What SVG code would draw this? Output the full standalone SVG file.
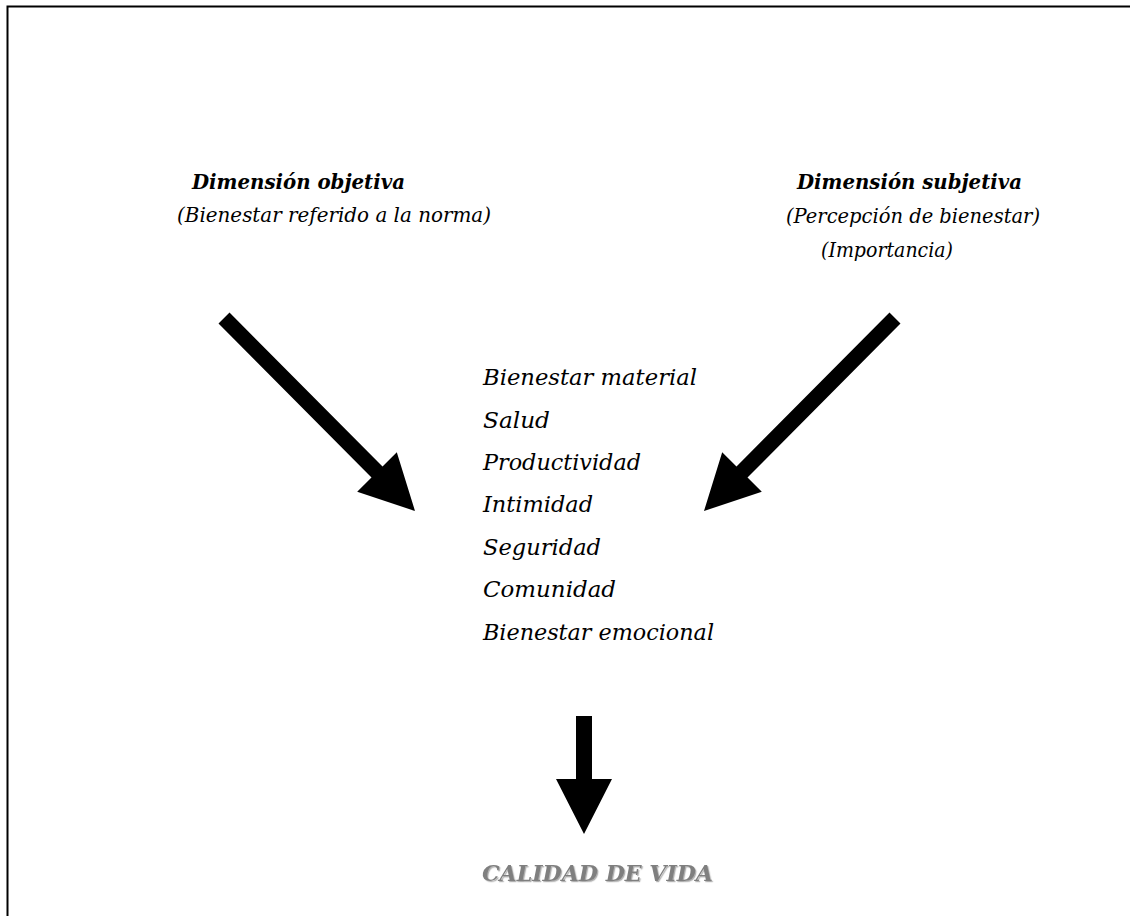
<svg xmlns="http://www.w3.org/2000/svg" width="1130" height="916" viewBox="0 0 1130 916">
  <style>
    .head { font-family: "DejaVu Serif", "Liberation Serif", serif; font-style: italic; font-weight: bold; font-size: 19.5px; fill: #000; }
    .sub { font-family: "DejaVu Serif", "Liberation Serif", serif; font-style: italic; font-size: 19.5px; fill: #000; }
    .item { font-family: "DejaVu Serif", "Liberation Serif", serif; font-style: italic; font-size: 21.5px; fill: #000; }
    .result { font-family: "DejaVu Serif", "Liberation Serif", serif; font-style: italic; font-weight: bold; font-size: 23px; fill: #7f7f7f; filter: url(#shade); }
    .arrow { fill: #000; stroke: none; }
  </style>
  <defs>
    <filter id="shade" x="-5%" y="-20%" width="110%" height="150%">
      <feDropShadow dx="1.2" dy="1.2" stdDeviation="0.4" flood-color="#b0b0b0"/>
    </filter>
  </defs>

  <rect width="1130" height="916" fill="#fff"/>
  <!-- frame: top and left edges only -->
  <path d="M7.5,916 V6.5 H1130" fill="none" stroke="#000" stroke-width="2"/>

  <g id="objetiva">
    <text class="head" x="192" y="189" textLength="213" lengthAdjust="spacingAndGlyphs">Dimensión objetiva</text>
    <text class="sub" x="177" y="222" textLength="314" lengthAdjust="spacingAndGlyphs">(Bienestar referido a la norma)</text>
  </g>

  <g id="subjetiva">
    <text class="head" x="797" y="189" textLength="225" lengthAdjust="spacingAndGlyphs">Dimensión subjetiva</text>
    <text class="sub" x="786" y="223" textLength="254" lengthAdjust="spacingAndGlyphs">(Percepción de bienestar)</text>
    <text class="sub" x="821" y="257" textLength="132" lengthAdjust="spacingAndGlyphs">(Importancia)</text>
  </g>

  <g id="dominios">
    <text class="item" x="483" y="385" textLength="214" lengthAdjust="spacingAndGlyphs">Bienestar material</text>
    <text class="item" x="483" y="428" textLength="67" lengthAdjust="spacingAndGlyphs">Salud</text>
    <text class="item" x="483" y="470" textLength="158" lengthAdjust="spacingAndGlyphs">Productividad</text>
    <text class="item" x="483" y="512" textLength="110" lengthAdjust="spacingAndGlyphs">Intimidad</text>
    <text class="item" x="483" y="555" textLength="118" lengthAdjust="spacingAndGlyphs">Seguridad</text>
    <text class="item" x="483" y="597" textLength="133" lengthAdjust="spacingAndGlyphs">Comunidad</text>
    <text class="item" x="483" y="640" textLength="231" lengthAdjust="spacingAndGlyphs">Bienestar emocional</text>
  </g>

  <g id="calidad">
    <text class="result" x="482" y="881" textLength="231" lengthAdjust="spacingAndGlyphs">CALIDAD DE VIDA</text>
  </g>

  <g id="connectors">
    <polygon class="arrow" points="229.5,312.5 382.5,466.5 396.8,452.2 415,511 357.2,491.8 371.5,477.5 218.5,323.5"/>
    <polygon class="arrow" points="889.5,312.5 736.5,466.5 722.2,452.2 704,511 761.8,491.8 747.5,477.5 900.5,323.5"/>
    <polygon class="arrow" points="576,716 592,716 592,779 612,779 584,834 556,779 576,779"/>
  </g>
</svg>
